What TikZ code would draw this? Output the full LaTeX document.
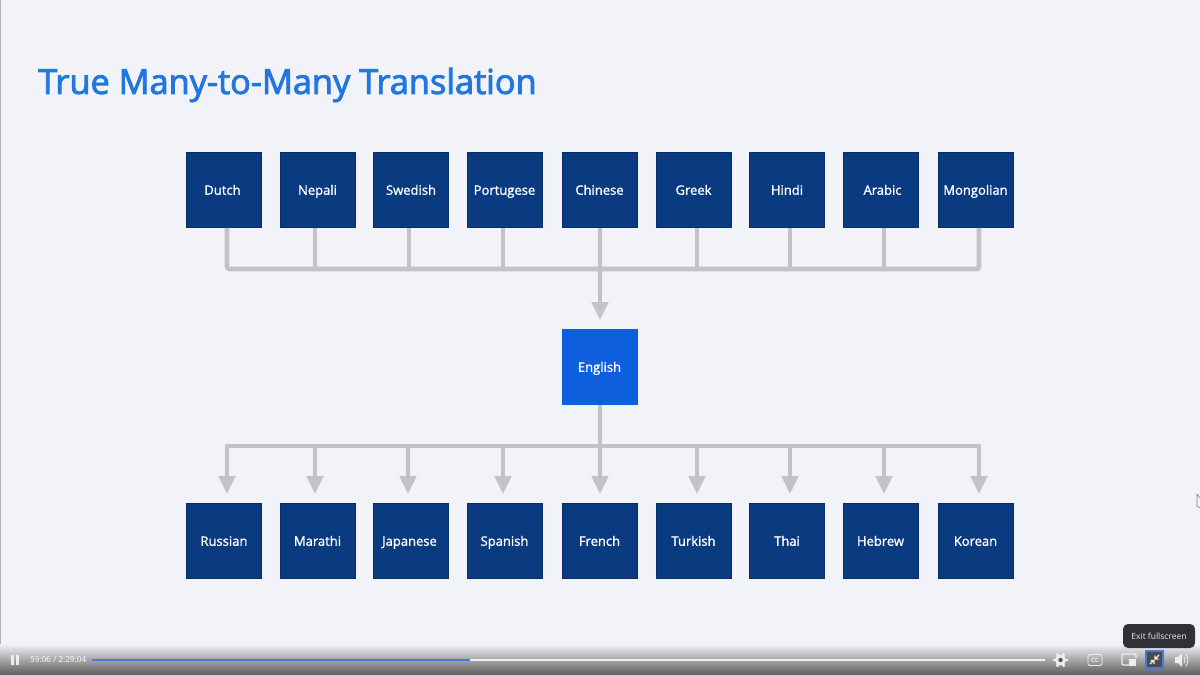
\documentclass[tikz,border=0pt]{standalone}
\usepackage{fontspec}
\setmainfont{Open Sans}
\newfontfamily\labelfont[FakeBold=1.2]{Open Sans}
\newfontfamily\titlefont[FakeBold=2.6]{Open Sans}
\usetikzlibrary{arrows.meta}
\definecolor{slidebg}{HTML}{F1F3F9}
\definecolor{boxdark}{HTML}{0A3A80}
\definecolor{boxhub}{HTML}{0E5FDD}
\definecolor{titleblue}{HTML}{2176E0}
\definecolor{linkgray}{HTML}{C1C3C8}
\definecolor{barlight}{HTML}{C6C6C8}
\definecolor{bardark}{HTML}{5C5C5E}
\definecolor{playblue}{HTML}{4A78DC}
\definecolor{tipdark}{HTML}{303135}
\definecolor{icongray}{HTML}{EDEDEF}
\tikzset{
  langbox/.style={fill=boxdark, draw=boxdark!80!black, line width=0.6pt, minimum size=75pt, inner sep=0pt, text=white, text height=9.5pt, text depth=0pt, font=\labelfont\fontsize{13}{15}\selectfont},
  hubbox/.style={langbox, fill=boxhub, draw=boxhub},
  link/.style={draw=linkgray, line width=4.6pt},
  linktip/.style={link, -{Triangle[length=18pt, width=16pt]}, shorten >=9pt},
  ctrl/.style={icongray, line width=1.3pt},
}
\begin{document}
\begin{tikzpicture}[x=1pt, y=-1pt]
\useasboundingbox (0,0) rectangle (1200,675);

% Background
\fill[slidebg] (0,0) rectangle (1200,675);
\fill[gray!60] (0,0) rectangle (1,648);

% Title
\node[anchor=west, inner sep=0pt, text=titleblue, font=\titlefont\fontsize{34.3}{38}\selectfont] (title) at (38,85) {True Many-to-Many Translation};

% Source languages
\node[langbox] (dutch) at (224,190) {\hspace{-3pt}Dutch};
\node[langbox] (nepali) at (317.5,190) {Nepali};
\node[langbox] (swedish) at (411,190) {Swedish};
\node[langbox] (portugese) at (504.5,190) {Portugese};
\node[langbox] (chinese) at (599.5,190) {Chinese};
\node[langbox] (greek) at (693.5,190) {Greek};
\node[langbox] (hindi) at (787,190) {Hindi};
\node[langbox] (arabic) at (880.5,190) {\hspace{4pt}Arabic};
\node[langbox] (mongolian) at (975.5,190) {Mongolian};

% Pivot language
\node[hubbox] (english) at (599.5,367) {English};

% Target languages
\node[langbox] (russian) at (224,541) {Russian};
\node[langbox] (marathi) at (317.5,541) {Marathi};
\node[langbox] (japanese) at (411,541) {\hspace{-3pt}Japanese};
\node[langbox] (spanish) at (504.5,541) {Spanish};
\node[langbox] (french) at (599.5,541) {French};
\node[langbox] (turkish) at (693.5,541) {Turkish};
\node[langbox] (thai) at (787,541) {Thai};
\node[langbox] (hebrew) at (880.5,541) {Hebrew};
\node[langbox] (korean) at (975.5,541) {Korean};

% Upper bus
\coordinate (topA) at (227,269);
\coordinate (topB) at (315,269);
\coordinate (topC) at (409,269);
\coordinate (topD) at (503,269);
\coordinate (topE) at (600,269);
\coordinate (topF) at (697,269);
\coordinate (topG) at (790,269);
\coordinate (topH) at (884,269);
\coordinate (topI) at (979,269);

\draw[link, rounded corners=2.5pt] (topA|-dutch.south) -- (topA) -- (topI) -- (topI|-mongolian.south);
\draw[link] (topB|-nepali.south) -- (topB);
\draw[link] (topC|-swedish.south) -- (topC);
\draw[link] (topD|-portugese.south) -- (topD);
\draw[link] (topF|-greek.south) -- (topF);
\draw[link] (topG|-hindi.south) -- (topG);
\draw[link] (topH|-arabic.south) -- (topH);
\draw[linktip] (topE|-chinese.south) -- (topE|-english.north);

% Lower bus
\coordinate (lowA) at (227,446);
\coordinate (lowB) at (315,446);
\coordinate (lowC) at (408,446);
\coordinate (lowD) at (503,446);
\coordinate (lowE) at (600,446);
\coordinate (lowF) at (697,446);
\coordinate (lowG) at (790,446);
\coordinate (lowH) at (884,446);
\coordinate (lowI) at (979,446);

\draw[link, line cap=round] (lowA) -- (lowI);
\draw[linktip] (lowA) -- (lowA|-russian.north);
\draw[linktip] (lowB) -- (lowB|-marathi.north);
\draw[linktip] (lowC) -- (lowC|-japanese.north);
\draw[linktip] (lowD) -- (lowD|-spanish.north);
\draw[linktip] (lowE|-english.south) -- (lowE|-french.north);
\draw[linktip] (lowF) -- (lowF|-turkish.north);
\draw[linktip] (lowG) -- (lowG|-thai.north);
\draw[linktip] (lowH) -- (lowH|-hebrew.north);
\draw[linktip] (lowI) -- (lowI|-korean.north);

% Player bar
\shade[top color=slidebg, bottom color=barlight] (0,644) rectangle (1200,653);
\shade[top color=barlight, bottom color=bardark] (0,653) rectangle (1200,675);

% Playback controls
\fill[icongray] (11,655) rectangle (14,665);
\fill[icongray] (16,655) rectangle (19,665);
\node[anchor=west, inner sep=0pt, text=white, font=\fontsize{8.2}{10}\selectfont] (time) at (30,660) {59:06 / 2:29:04};
\fill[playblue] (92,658.5) rectangle (470,661);
\fill[icongray] (470,659) rectangle (1045,660.5);

% Gear icon
\fill[icongray] (1060.5,660) circle (5.5pt);
\foreach \ang in {0,60,...,300} {
  \draw[icongray, line width=2.6pt] (1060.5,660) -- ++(\ang:7.5pt);
}
\fill[gray!70!black] (1060.5,660) circle (2.2pt);

% CC icon
\draw[ctrl, line width=0.8pt, rounded corners=1.5pt] (1088,654.5) rectangle (1102,665.5);
\node[inner sep=0pt, text=icongray, font=\fontsize{6}{7}\selectfont\bfseries] (cc) at (1095,660) {CC};

% Picture in picture icon
\draw[ctrl, rounded corners=1pt] (1132,665) -- (1122,665) -- (1122,654) -- (1136,654) -- (1136,658);
\fill[icongray] (1129,659) rectangle (1136,666);

% Fullscreen icon
\fill[gray!60!black] (1146,651) rectangle (1163,668);
\draw[playblue, line width=1.4pt] (1146,651) rectangle (1163,668);
\draw[ctrl] (1159,655) -- (1155.5,658.5) (1155,655.5) -- (1155,659) -- (1158.5,659);
\draw[ctrl] (1150,664) -- (1153.5,660.5) (1150.5,660.5) -- (1154,660.5) -- (1154,664);

% Speaker icon
\fill[icongray] (1175,657) -- (1178,657) -- (1182,653) -- (1182,667) -- (1178,663) -- (1175,663) -- cycle;
\draw[ctrl, line width=0.9pt] (1184,656.5) .. controls (1185.5,658.5) and (1185.5,661.5) .. (1184,663.5);
\draw[ctrl, line width=0.9pt] (1186,654) .. controls (1188.5,657.5) and (1188.5,662.5) .. (1186,666);

% Tooltip
\node[fill=tipdark, rounded corners=5pt, minimum width=72pt, minimum height=24pt, inner sep=0pt, text=icongray, font=\fontsize{8.5}{10}\selectfont] (tooltip) at (1159,636) {Exit fullscreen};

% Cursor
\draw[gray, line width=0.6pt] (1197,494) -- (1200,498) (1197,494) -- (1197,506) -- (1200,508);
\end{tikzpicture}
\end{document}
